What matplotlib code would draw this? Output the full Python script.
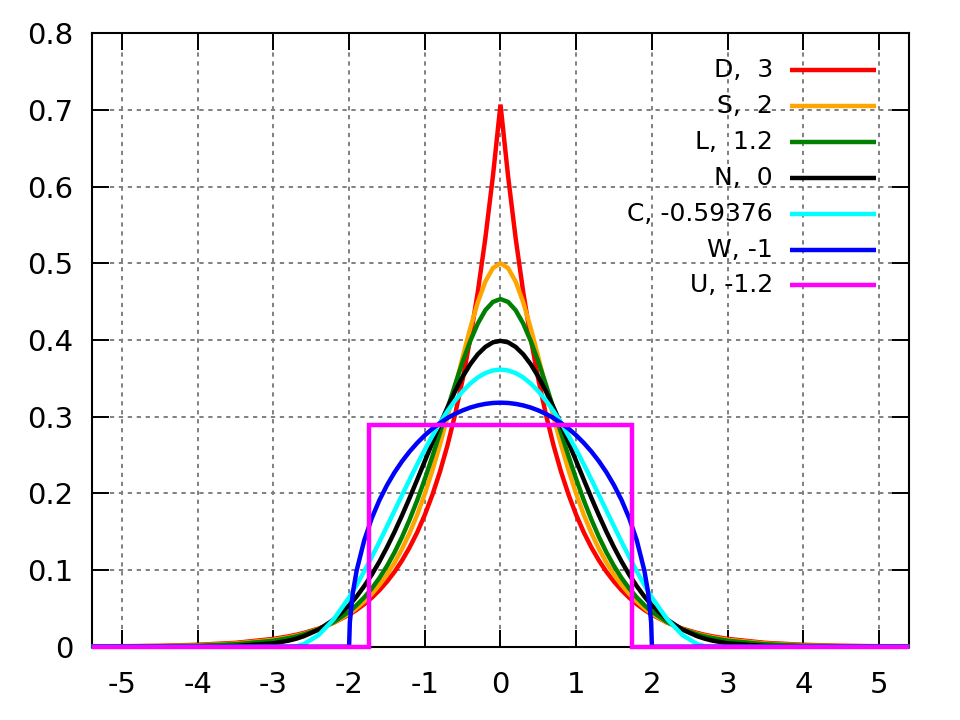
import matplotlib
matplotlib.use("Agg")
import matplotlib.pyplot as plt

plt.rcParams['axes.unicode_minus'] = False

x = [-5.4, -5.0, -4.5, -4.0, -3.5, -3.0, -2.8, -2.7, -2.6, -2.4, -2.2, -2.0, -1.99, -1.95,
     -1.9, -1.8, -1.7, -1.6, -1.5, -1.4, -1.3, -1.2, -1.1, -1.0, -0.9, -0.8, -0.7, -0.6,
     -0.5, -0.4, -0.3, -0.2, -0.1, 0.0,
     0.1, 0.2, 0.3, 0.4, 0.5, 0.6, 0.7, 0.8, 0.9, 1.0, 1.1, 1.2, 1.3, 1.4, 1.5, 1.6, 1.7,
     1.8, 1.9, 1.95, 1.99, 2.0, 2.2, 2.4, 2.6, 2.7, 2.8, 3.0, 3.5, 4.0, 4.5, 5.0, 5.4]

d_vals = [0.0003, 0.0006, 0.0012, 0.0025, 0.0050, 0.0102, 0.0135, 0.0155, 0.0179, 0.0237,
          0.0315, 0.0418, 0.0424, 0.0449, 0.0481, 0.0555, 0.0639, 0.0736, 0.0848, 0.0976,
          0.1125, 0.1296, 0.1492, 0.1719, 0.1980, 0.2281, 0.2628, 0.3027, 0.3487, 0.4016,
          0.4626, 0.5329, 0.6139, 0.7071,
          0.6139, 0.5329, 0.4626, 0.4016, 0.3487, 0.3027, 0.2628, 0.2281, 0.1980, 0.1719,
          0.1492, 0.1296, 0.1125, 0.0976, 0.0848, 0.0736, 0.0639, 0.0555, 0.0481, 0.0449,
          0.0424, 0.0418, 0.0315, 0.0237, 0.0179, 0.0155, 0.0135, 0.0102, 0.0050, 0.0025,
          0.0012, 0.0006, 0.0003]

s_vals = [0.0002, 0.0004, 0.0009, 0.0019, 0.0041, 0.0090, 0.0123, 0.0144, 0.0168, 0.0230,
          0.0315, 0.0431, 0.0438, 0.0466, 0.0504, 0.0590, 0.0689, 0.0805, 0.0939, 0.1096,
          0.1276, 0.1484, 0.1722, 0.1993, 0.2297, 0.2633, 0.2998, 0.3383, 0.3775, 0.4153,
          0.4492, 0.4763, 0.4939, 0.5000,
          0.4939, 0.4763, 0.4492, 0.4153, 0.3775, 0.3383, 0.2998, 0.2633, 0.2297, 0.1993,
          0.1722, 0.1484, 0.1276, 0.1096, 0.0939, 0.0805, 0.0689, 0.0590, 0.0504, 0.0466,
          0.0438, 0.0431, 0.0315, 0.0230, 0.0168, 0.0144, 0.0123, 0.0090, 0.0041, 0.0019,
          0.0009, 0.0004, 0.0002]

l_vals = [0.0001, 0.0002, 0.0005, 0.0013, 0.0032, 0.0078, 0.0112, 0.0133, 0.0160, 0.0227,
          0.0323, 0.0457, 0.0465, 0.0498, 0.0543, 0.0643, 0.0760, 0.0895, 0.1051, 0.1230,
          0.1432, 0.1660, 0.1911, 0.2186, 0.2481, 0.2790, 0.3105, 0.3418, 0.3717, 0.3986,
          0.4215, 0.4389, 0.4497, 0.4534,
          0.4497, 0.4389, 0.4215, 0.3986, 0.3717, 0.3418, 0.3105, 0.2790, 0.2481, 0.2186,
          0.1911, 0.1660, 0.1432, 0.1230, 0.1051, 0.0895, 0.0760, 0.0643, 0.0543, 0.0498,
          0.0465, 0.0457, 0.0323, 0.0227, 0.0160, 0.0133, 0.0112, 0.0078, 0.0032, 0.0013,
          0.0005, 0.0002, 0.0001]

n_vals = [0.0000, 0.0000, 0.0000, 0.0001, 0.0009, 0.0044, 0.0079, 0.0104, 0.0136, 0.0224,
          0.0355, 0.0540, 0.0551, 0.0596, 0.0656, 0.0790, 0.0940, 0.1109, 0.1295, 0.1497,
          0.1714, 0.1942, 0.2179, 0.2420, 0.2661, 0.2897, 0.3123, 0.3332, 0.3521, 0.3683,
          0.3814, 0.3910, 0.3970, 0.3989,
          0.3970, 0.3910, 0.3814, 0.3683, 0.3521, 0.3332, 0.3123, 0.2897, 0.2661, 0.2420,
          0.2179, 0.1942, 0.1714, 0.1497, 0.1295, 0.1109, 0.0940, 0.0790, 0.0656, 0.0596,
          0.0551, 0.0540, 0.0355, 0.0224, 0.0136, 0.0104, 0.0079, 0.0044, 0.0009, 0.0001,
          0.0000, 0.0000, 0.0000]

c_vals = [0, 0, 0, 0, 0, 0, 0, 0.0005, 0.0032, 0.0154,
          0.0361, 0.0642, 0.0658, 0.0722, 0.0806, 0.0983, 0.1171, 0.1366, 0.1568, 0.1773,
          0.1978, 0.2181, 0.2379, 0.2569, 0.2750, 0.2919, 0.3074, 0.3211, 0.3331, 0.3432,
          0.3512, 0.3569, 0.3603, 0.3615,
          0.3603, 0.3569, 0.3512, 0.3432, 0.3331, 0.3211, 0.3074, 0.2919, 0.2750, 0.2569,
          0.2379, 0.2181, 0.1978, 0.1773, 0.1568, 0.1366, 0.1171, 0.0983, 0.0806, 0.0722,
          0.0658, 0.0642, 0.0361, 0.0154, 0.0032, 0.0005, 0, 0, 0, 0,
          0, 0, 0]

w_vals = [0, 0, 0, 0, 0, 0, 0, 0, 0, 0,
          0, 0, 0.0318, 0.0707, 0.0994, 0.1387, 0.1677, 0.1910, 0.2105, 0.2273,
          0.2419, 0.2546, 0.2658, 0.2757, 0.2843, 0.2917, 0.2982, 0.3037, 0.3082, 0.3119,
          0.3147, 0.3167, 0.3179, 0.3183,
          0.3179, 0.3167, 0.3147, 0.3119, 0.3082, 0.3037, 0.2982, 0.2917, 0.2843, 0.2757,
          0.2658, 0.2546, 0.2419, 0.2273, 0.2105, 0.1910, 0.1677, 0.1387, 0.0994, 0.0707,
          0.0318, 0, 0, 0, 0, 0, 0, 0, 0, 0,
          0, 0, 0]

u_x = [-5.4, -1.7321, -1.7321, 1.7321, 1.7321, 5.4]
u_vals = [0, 0, 0.2887, 0.2887, 0, 0]

labels = ["D,  3", "S,  2", "L,  1.2", "N,  0", "C, -0.59376", "W, -1", "U, -1.2"]
colors = ["#ff0000", "#ffa500", "#008000", "#000000", "#00ffff", "#0000ff", "#ff00ff"]

x_ticks = [-5, -4, -3, -2, -1, 0, 1, 2, 3, 4, 5]
y_ticks = [0, 0.1, 0.2, 0.3, 0.4, 0.5, 0.6, 0.7, 0.8]

fig = plt.figure(figsize=(9.6, 7.2), dpi=100)
ax = fig.add_axes([0.0955, 0.1018, 0.8517, 0.8519])

series = [(x, d_vals), (x, s_vals), (x, l_vals), (x, n_vals), (x, c_vals), (x, w_vals), (u_x, u_vals)]
lw = 3.2
for i, (xs, ys) in enumerate(series):
    ax.plot(xs, ys, color=colors[i], lw=lw, solid_joinstyle='miter', solid_capstyle='butt',
            clip_on=False, zorder=3 + i * 0.1)
    # legend entry drawn by hand: right-aligned text, sample line on the right
    ly = 0.940 - i * 0.0585
    ax.text(0.8333, ly, labels[i], transform=ax.transAxes, ha='right', va='center',
            fontsize=18, zorder=5)
    ax.plot([0.8541, 0.9593], [ly, ly], transform=ax.transAxes, color=colors[i], lw=lw,
            solid_capstyle='butt', clip_on=False, zorder=5)

ax.set_xlim(-5.4, 5.4)
ax.set_ylim(0, 0.8)
ax.set_xticks(x_ticks)
ax.set_xticklabels([str(t) for t in x_ticks])
ax.set_yticks(y_ticks)
ax.set_yticklabels(["0"] + ["%.1f" % t for t in y_ticks[1:]])

ax.tick_params(direction='in', length=12.5, width=1.4, labelsize=21, top=True, right=True)
ax.tick_params(axis='x', pad=17.5)
ax.tick_params(axis='y', pad=13)
for sp in ax.spines.values():
    sp.set_linewidth(1.5)
    sp.set_zorder(2.5)

ax.grid(True, color='#808080', lw=1.4, dashes=(2.2, 2.4))
ax.set_axisbelow(True)

fig.savefig("out.png", dpi=100)
